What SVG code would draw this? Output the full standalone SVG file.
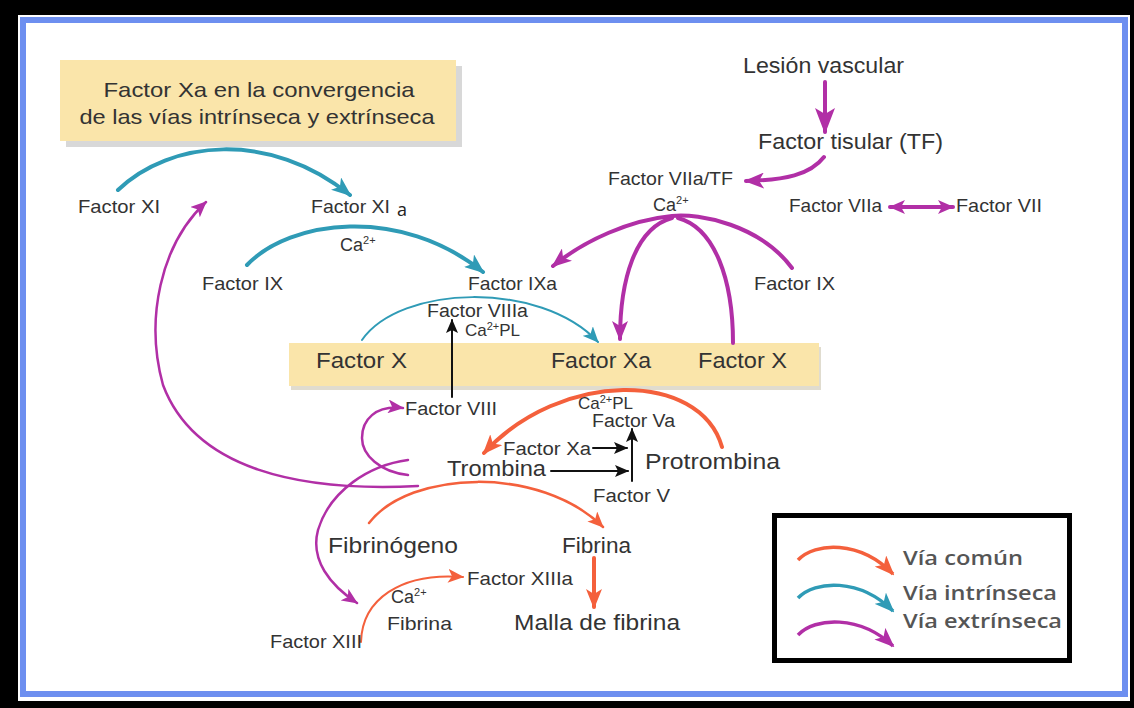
<svg xmlns="http://www.w3.org/2000/svg" width="1134" height="708" viewBox="0 0 1134 708">
<defs>
<style>
.t{font-family:"Liberation Sans",Arial,sans-serif;fill:#333;}
.lg{font-family:"Open Sans","Liberation Sans",sans-serif;font-weight:600;fill:#555;font-size:20px;}
.m{fill:none;stroke:#b12fa6;}
.c{fill:none;stroke:#2f9bb6;}
.o{fill:none;stroke:#f4603c;}
.k{fill:none;stroke:#111;stroke-width:2;}
</style>
<marker id="aM" viewBox="0 0 20 16" refX="18" refY="8" markerWidth="20" markerHeight="16" markerUnits="userSpaceOnUse" orient="auto"><path d="M0,0 L20,8 L0,16 L5,8 Z" fill="#b12fa6"/></marker>
<marker id="aMb" viewBox="0 0 26 20" refX="24" refY="10" markerWidth="26" markerHeight="20" markerUnits="userSpaceOnUse" orient="auto"><path d="M0,0 L26,10 L0,20 L6,10 Z" fill="#b12fa6"/></marker>
<marker id="aMs" viewBox="0 0 16 14" refX="15" refY="7" markerWidth="16" markerHeight="14" markerUnits="userSpaceOnUse" orient="auto-start-reverse"><path d="M0,0 L16,7 L0,14 L4,7 Z" fill="#b12fa6"/></marker>
<marker id="aT" viewBox="0 0 20 16" refX="18" refY="8" markerWidth="20" markerHeight="16" markerUnits="userSpaceOnUse" orient="auto"><path d="M0,0 L20,8 L0,16 L5,8 Z" fill="#2f9bb6"/></marker>
<marker id="aTs" viewBox="0 0 16 14" refX="15" refY="7" markerWidth="16" markerHeight="14" markerUnits="userSpaceOnUse" orient="auto"><path d="M0,0 L16,7 L0,14 L4,7 Z" fill="#2f9bb6"/></marker>
<marker id="aO" viewBox="0 0 20 16" refX="18" refY="8" markerWidth="20" markerHeight="16" markerUnits="userSpaceOnUse" orient="auto"><path d="M0,0 L20,8 L0,16 L5,8 Z" fill="#f4603c"/></marker>
<marker id="aOs" viewBox="0 0 16 14" refX="15" refY="7" markerWidth="16" markerHeight="14" markerUnits="userSpaceOnUse" orient="auto"><path d="M0,0 L16,7 L0,14 L4,7 Z" fill="#f4603c"/></marker>
<marker id="aK" viewBox="0 0 14 12" refX="13" refY="6" markerWidth="14" markerHeight="12" markerUnits="userSpaceOnUse" orient="auto"><path d="M0,0 L14,6 L0,12 L3,6 Z" fill="#111"/></marker>
</defs>

<!-- frame -->
<rect x="0" y="0" width="1134" height="708" fill="#000"/>
<rect x="18" y="15" width="1112" height="686" fill="#fff"/>
<rect x="23" y="20" width="1102" height="674" fill="#fff" stroke="#6d8ff0" stroke-width="6"/>

<!-- backgrounds -->
<g id="title">
<rect x="66" y="66" width="396" height="81" fill="#d8d8d8"/>
<rect x="60" y="60" width="396" height="81" fill="#fae5aa"/>
<text class="t" x="259" y="97" font-size="21" text-anchor="middle" textLength="311" lengthAdjust="spacingAndGlyphs">Factor Xa en la convergencia</text>
<text class="t" x="257" y="124" font-size="21" text-anchor="middle" textLength="355" lengthAdjust="spacingAndGlyphs">de las vías intrínseca y extrínseca</text>
</g>
<g id="band">
<rect x="291" y="347" width="530" height="43" fill="#e0dccf"/>
<rect x="289" y="343" width="530" height="43" fill="#fae5aa"/>
</g>

<!-- connectors -->
<g id="connectors" stroke-linecap="round">
<path class="c" stroke-width="4" d="M118,190 C170,140 270,130 350,195" marker-end="url(#aT)"/>
<path class="c" stroke-width="4" d="M247,265 C290,220 400,205 483,272" marker-end="url(#aT)"/>
<path class="c" stroke-width="2" d="M362,340 C400,285 540,280 598,342" marker-end="url(#aTs)"/>
<path class="m" stroke-width="4" d="M825,82 L825,132" marker-end="url(#aMb)"/>
<path class="m" stroke-width="4" d="M824,157 C810,175 785,180 746,181" marker-end="url(#aM)"/>
<path class="m" stroke-width="4" d="M890,207 L953,207" marker-start="url(#aMs)" marker-end="url(#aMs)"/>
<path class="m" stroke-width="4" d="M792,268 C760,225 700,213 672,216 C630,220 585,240 553,266" marker-end="url(#aM)"/>
<path class="m" stroke-width="4" d="M672,218 C635,228 620,280 620,339" marker-end="url(#aM)"/>
<path class="m" stroke-width="4" d="M733,343 C733,280 715,228 678,218"/>
<path class="m" stroke-width="2.5" d="M418,486 C300,492 195,470 163,385 C145,320 160,245 206,202" marker-end="url(#aMs)"/>
<path class="m" stroke-width="2.5" d="M408,475 C380,472 362,455 362,438 C362,420 375,405 403,408" marker-end="url(#aMs)"/>
<path class="m" stroke-width="2.5" d="M408,460 C370,465 330,490 318,530 C310,560 330,585 357,603" marker-end="url(#aMs)"/>
<path class="o" stroke-width="4" d="M722,447 C700,370 560,370 484,453" marker-end="url(#aO)"/>
<path class="o" stroke-width="2.5" d="M369,523 C410,470 540,465 603,527" marker-end="url(#aOs)"/>
<path class="o" stroke-width="4" d="M594,558 L594,607" marker-end="url(#aO)"/>
<path class="o" stroke-width="2" d="M361,642 C362,600 400,572 463,577" marker-end="url(#aOs)"/>
<path class="k" d="M452,397 L452,320" marker-end="url(#aK)"/>
<path class="k" d="M593,448 L627,448" marker-end="url(#aK)"/>
<path class="k" d="M551,471 L628,471" marker-end="url(#aK)"/>
<path class="k" d="M632,481 L632,429" marker-end="url(#aK)"/>
</g>

<!-- nodes -->
<g id="n-xi"><text class="t" x="78" y="213" font-size="19" textLength="82" lengthAdjust="spacingAndGlyphs">Factor XI</text></g>
<g id="n-xia"><text class="t" x="311" y="213" font-size="19" textLength="79" lengthAdjust="spacingAndGlyphs">Factor XI</text><text x="397" y="216" font-family="Open Sans, Liberation Sans, sans-serif" font-size="18" fill="#222">a</text></g>
<g id="n-ca1"><text class="t" x="340" y="251" font-size="18">Ca<tspan font-size="11" dy="-7">2+</tspan></text></g>
<g id="n-ix"><text class="t" x="202" y="290" font-size="19" textLength="81" lengthAdjust="spacingAndGlyphs">Factor IX</text></g>
<g id="n-ixa"><text class="t" x="468" y="290" font-size="19" textLength="89" lengthAdjust="spacingAndGlyphs">Factor IXa</text></g>
<g id="n-viiia"><text class="t" x="427" y="317" font-size="18" textLength="101" lengthAdjust="spacingAndGlyphs">Factor VIIIa</text>
<text class="t" x="465" y="336" font-size="17">Ca<tspan font-size="11" dy="-6">2+</tspan><tspan dy="6">PL</tspan></text></g>
<g id="n-x1"><text class="t" x="316" y="368" font-size="22" textLength="91" lengthAdjust="spacingAndGlyphs">Factor X</text></g>
<g id="n-xa"><text class="t" x="551" y="368" font-size="22" textLength="100" lengthAdjust="spacingAndGlyphs">Factor Xa</text></g>
<g id="n-x2"><text class="t" x="698" y="368" font-size="22" textLength="89" lengthAdjust="spacingAndGlyphs">Factor X</text></g>
<g id="n-viii"><text class="t" x="405" y="415" font-size="18" textLength="92" lengthAdjust="spacingAndGlyphs">Factor VIII</text></g>
<g id="n-va"><text class="t" x="578" y="409" font-size="17">Ca<tspan font-size="11" dy="-6">2+</tspan><tspan dy="6">PL</tspan></text>
<text class="t" x="592" y="427" font-size="18" textLength="83" lengthAdjust="spacingAndGlyphs">Factor Va</text></g>
<g id="n-xa2"><text class="t" x="503" y="455" font-size="18" textLength="88" lengthAdjust="spacingAndGlyphs">Factor Xa</text></g>
<g id="n-trombina"><text class="t" x="447" y="476" font-size="22" textLength="99" lengthAdjust="spacingAndGlyphs">Trombina</text></g>
<g id="n-protrombina"><text class="t" x="645" y="469" font-size="22" textLength="135" lengthAdjust="spacingAndGlyphs">Protrombina</text></g>
<g id="n-v"><text class="t" x="593" y="502" font-size="18" textLength="77" lengthAdjust="spacingAndGlyphs">Factor V</text></g>
<g id="n-fibrinogeno"><text class="t" x="328" y="553" font-size="22" textLength="130" lengthAdjust="spacingAndGlyphs">Fibrinógeno</text></g>
<g id="n-fibrina"><text class="t" x="562" y="553" font-size="22" textLength="69" lengthAdjust="spacingAndGlyphs">Fibrina</text></g>
<g id="n-xiiia"><text class="t" x="467" y="585" font-size="19" textLength="106" lengthAdjust="spacingAndGlyphs">Factor XIIIa</text></g>
<g id="n-ca3"><text class="t" x="391" y="603" font-size="18">Ca<tspan font-size="11" dy="-7">2+</tspan></text>
<text class="t" x="387" y="630" font-size="19" textLength="65" lengthAdjust="spacingAndGlyphs">Fibrina</text></g>
<g id="n-malla"><text class="t" x="514" y="630" font-size="22" textLength="166" lengthAdjust="spacingAndGlyphs">Malla de fibrina</text></g>
<g id="n-xiii"><text class="t" x="270" y="648" font-size="19" textLength="92" lengthAdjust="spacingAndGlyphs">Factor XIII</text></g>
<g id="n-lesion"><text class="t" x="743" y="73" font-size="22" textLength="161" lengthAdjust="spacingAndGlyphs">Lesión vascular</text></g>
<g id="n-tf"><text class="t" x="758" y="149" font-size="22" textLength="185" lengthAdjust="spacingAndGlyphs">Factor tisular (TF)</text></g>
<g id="n-viiatf"><text class="t" x="608" y="185" font-size="19" textLength="125" lengthAdjust="spacingAndGlyphs">Factor VIIa/TF</text>
<text class="t" x="653" y="211" font-size="18">Ca<tspan font-size="11" dy="-7">2+</tspan></text></g>
<g id="n-viia"><text class="t" x="789" y="212" font-size="19" textLength="93" lengthAdjust="spacingAndGlyphs">Factor VIIa</text></g>
<g id="n-vii"><text class="t" x="956" y="212" font-size="19" textLength="86" lengthAdjust="spacingAndGlyphs">Factor VII</text></g>
<g id="n-ix2"><text class="t" x="754" y="290" font-size="19" textLength="81" lengthAdjust="spacingAndGlyphs">Factor IX</text></g>

<!-- legend -->
<g id="legend">
<rect x="774.5" y="515.5" width="295" height="145" fill="#fff" stroke="#000" stroke-width="5"/>
<path class="o" stroke-width="3.5" d="M798,560 C815,542 860,540 893,574" marker-end="url(#aO)"/>
<path class="c" stroke-width="3.5" d="M798,598 C815,580 860,578 893,611" marker-end="url(#aT)"/>
<path class="m" stroke-width="3.5" d="M798,635 C815,617 860,615 893,646" marker-end="url(#aM)"/>
<text class="lg" x="903" y="565" textLength="120" lengthAdjust="spacingAndGlyphs">Vía común</text>
<text class="lg" x="903" y="600" textLength="154" lengthAdjust="spacingAndGlyphs">Vía intrínseca</text>
<text class="lg" x="903" y="628" textLength="159" lengthAdjust="spacingAndGlyphs">Vía extrínseca</text>
</g>
</svg>
